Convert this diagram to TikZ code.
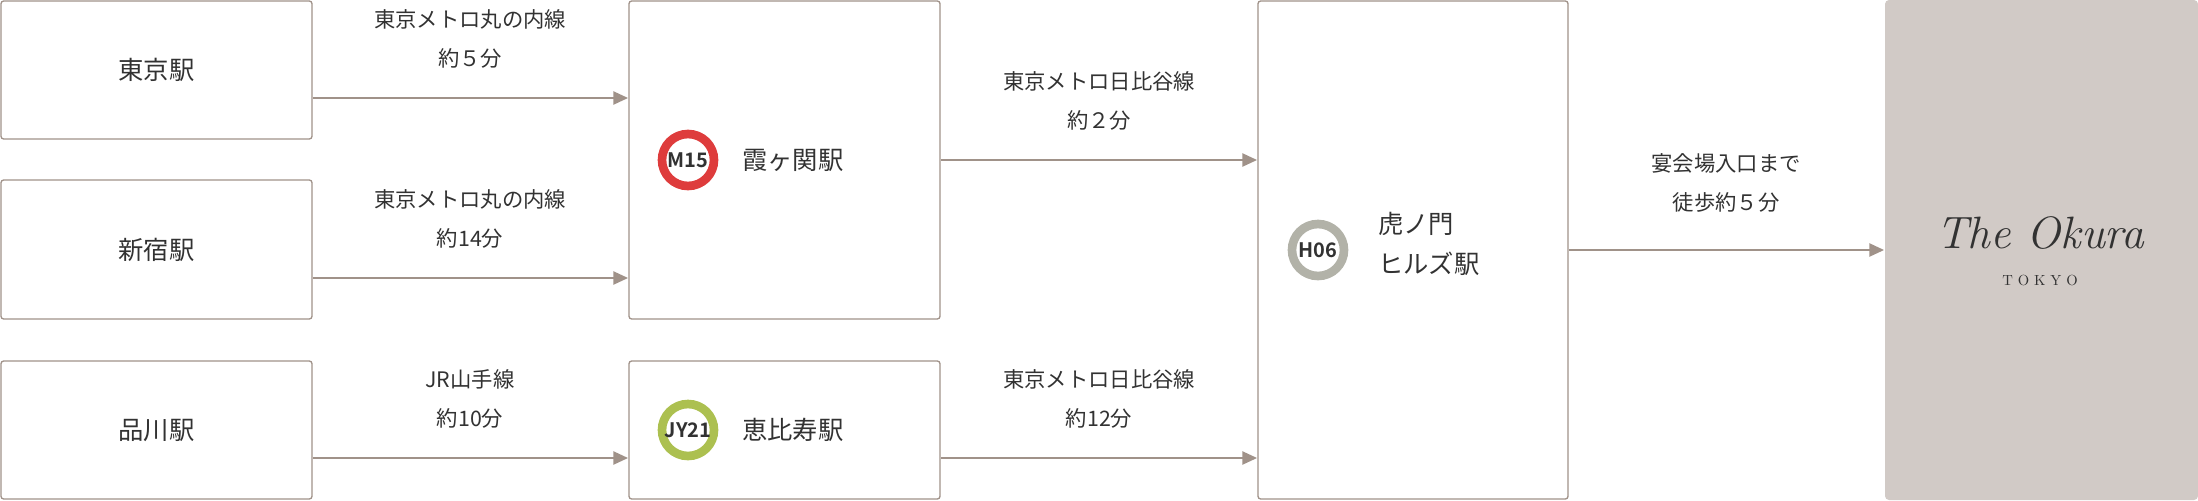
\documentclass[tikz,border=0pt]{standalone}
\usepackage{fontspec}
\setmainfont{Noto Sans CJK JP}
\newfontfamily\jpb{Noto Sans CJK JP Bold}
\newfontfamily\logofont{Latin Modern Roman}
\usetikzlibrary{arrows.meta}
\definecolor{edge}{RGB}{160,146,137}
\definecolor{txt}{RGB}{50,50,50}
\definecolor{logobg}{RGB}{209,202,198}
\definecolor{mred}{RGB}{222,60,60}
\definecolor{hgray}{RGB}{178,178,168}
\definecolor{jgreen}{RGB}{172,192,80}
\begin{document}
\begin{tikzpicture}[x=0.75pt,y=-0.75pt,
  box/.style={draw=edge,line width=1pt,rounded corners=2pt},
  lbl/.style={font=\fontsize{16}{20}\selectfont,text=txt,align=center,inner sep=0},
  stn/.style={font=\fontsize{19}{30}\selectfont,text=txt,anchor=west,inner sep=0,align=left},
  arr/.style={draw=edge,line width=1pt,-{Triangle[length=11pt,width=10pt]}},
  badge/.style={circle,line width=6.5pt,minimum size=39pt,inner sep=0,font=\jpb\fontsize{15}{15}\selectfont,text=txt}]
\useasboundingbox (0,0) rectangle (2198,500);
\draw[box] (1,1) rectangle (312,139) node[pos=.5,lbl,font=\fontsize{19}{20}\selectfont] (tokyo) {東京駅};
\draw[box] (1,180) rectangle (312,319) node[pos=.5,lbl,font=\fontsize{19}{20}\selectfont] (shinjuku) {新宿駅};
\draw[box] (1,361) rectangle (312,499) node[pos=.5,lbl,font=\fontsize{19}{20}\selectfont] (shinagawa) {品川駅};
\draw[box] (629,1) rectangle (940,319);
\draw[box] (629,361) rectangle (940,499);
\draw[box] (1258,1) rectangle (1568,499);
\fill[logobg,rounded corners=3pt] (1885,0) rectangle (2198,500);
\coordinate (a1s) at (313,98); \coordinate (a1e) at (628,98);
\coordinate (a2s) at (313,278); \coordinate (a2e) at (628,278);
\coordinate (a3s) at (313,458); \coordinate (a3e) at (628,458);
\coordinate (a4s) at (941,160); \coordinate (a4e) at (1257,160);
\coordinate (a5s) at (941,458); \coordinate (a5e) at (1257,458);
\coordinate (a6s) at (1569,250); \coordinate (a6e) at (1884,250);
\foreach \s/\e in {a1s/a1e,a2s/a2e,a3s/a3e,a4s/a4e,a5s/a5e,a6s/a6e} \draw[arr] (\s) -- (\e);
\node[lbl] (l1) at (470,39) {東京メトロ丸の内線\\[9pt]約５分};
\node[lbl] (l2) at (470,219) {東京メトロ丸の内線\\[9pt]約14分};
\node[lbl] (l3) at (470,399) {JR山手線\\[9pt]約10分};
\node[lbl] (l4) at (1099,101) {東京メトロ日比谷線\\[9pt]約２分};
\node[lbl] (l5) at (1099,399) {東京メトロ日比谷線\\[9pt]約12分};
\node[lbl] (l6) at (1726,183) {宴会場入口まで\\[9pt]徒歩約５分};
\node[badge,draw=mred] (m15) at (688,160) {M15};
\node[stn] (kasumi) at (742,160) {霞ヶ関駅};
\node[badge,draw=jgreen] (jy21) at (688,430) {JY21};
\node[stn] (ebisu) at (742,430) {恵比寿駅};
\node[badge,draw=hgray] (h06) at (1318,250) {H06};
\node[stn] (tora) at (1378,244) {虎ノ門\\ヒルズ駅};
\node[inner sep=0,text=txt,font=\logofont\itshape\fontsize{34}{34}\selectfont] (logo) at (2040,233) {The Okura};
\node[inner sep=0,text=txt,font=\logofont\fontsize{11}{11}\selectfont] (logot) at (2040,280) {T\,\,O\,\,K\,\,Y\,\,O};
\end{tikzpicture}
\end{document}
